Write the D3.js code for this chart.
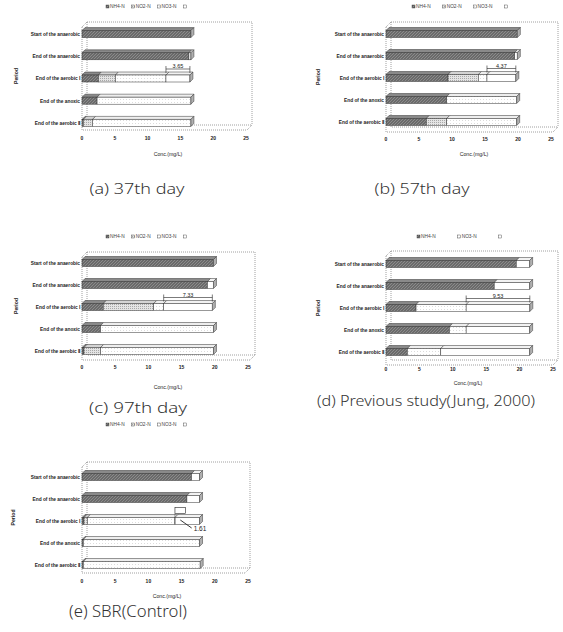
<!DOCTYPE html>
<html>
<head>
<meta charset="utf-8">
<script src="https://cdn.jsdelivr.net/npm/d3@7"></script>
<style>
  body { margin: 0; background: #fff; }
  svg { display: block; }
</style>
</head>
<body>
<div id="chart"></div>
<script>
// categories (y axis) and series
const categories = ["Start of the anaerobic", "End of the anaerobic", "End of the aerobic \u2160", "End of the anoxic", "End of the aerobic \u2161"];
const seriesNames = ["NH4-N", "NO2-N", "NO3-N", ""];
const tickValues = [0, 5, 10, 15, 20, 25];

// (a) 37th day
const nh4A = [16.6, 16.3, 2.5, 2.3, 0.2];
const no2A = [0, 0, 2.6, 0, 1.4];
const no3A = [0, 0, 7.7, 14.3, 15.0];
const etcA = [0, 0.3, 3.65, 0, 0];

// (b) 57th day
const nh4B = [19.9, 19.5, 9.4, 9.2, 6.1];
const no2B = [0, 0, 4.6, 0, 3.1];
const no3B = [0, 0, 1.3, 10.6, 10.6];
const etcB = [0, 0.4, 4.37, 0, 0];

// (c) 97th day
const nh4C = [19.8, 18.9, 3.2, 2.8, 0.3];
const no2C = [0, 0, 7.6, 0, 2.5];
const no3C = [0, 0, 1.5, 17.0, 17.0];
const etcC = [0, 0.9, 7.33, 0, 0];

// (d) previous study (Jung, 2000) - no NO2-N series
const nh4D = [19.5, 16.2, 4.5, 9.5, 3.2];
const no3D = [0, 0, 7.5, 2.5, 5.0];
const etcD = [2.0, 5.3, 9.53, 9.5, 13.3];

// (e) SBR (control)
const nh4E = [16.5, 15.8, 0.3, 0.2, 0.2];
const no2E = [0, 0, 0.5, 0, 0];
const no3E = [0, 0, 13.2, 17.5, 17.6];
const etcE = [1.2, 1.9, 3.7, 0, 0];

// annotated differences (row "End of the aerobic I")
const noteValues = [3.65, 4.37, 7.33, 9.53, 1.61];

const width = 563, height = 632;
const depth = 3;

const svg = d3.select('#chart').append('svg')
  .attr('width', width)
  .attr('height', height)
  .style('font-family', 'Liberation Sans, Arial, sans-serif');

// fill patterns
const defs = svg.append('defs');
const p0 = defs.append('pattern').attr('id', 'pNH4').attr('patternUnits', 'userSpaceOnUse')
  .attr('width', 3).attr('height', 3);
p0.append('rect').attr('width', 3).attr('height', 3).attr('fill', '#6a6a6a');
p0.append('path').attr('d', 'M0,3 L3,0').attr('stroke', '#999').attr('stroke-width', 0.7);
const p1 = defs.append('pattern').attr('id', 'pNO2').attr('patternUnits', 'userSpaceOnUse')
  .attr('width', 2).attr('height', 2);
p1.append('rect').attr('width', 2).attr('height', 2).attr('fill', '#e4e4e4');
p1.append('rect').attr('width', 1).attr('height', 1).attr('fill', '#a8a8a8');
const p2 = defs.append('pattern').attr('id', 'pNO3').attr('patternUnits', 'userSpaceOnUse')
  .attr('width', 3).attr('height', 3);
p2.append('rect').attr('width', 3).attr('height', 3).attr('fill', '#fff');
p2.append('rect').attr('width', 1).attr('height', 1).attr('fill', '#dcdcdc');

const fills = ['url(#pNH4)', 'url(#pNO2)', 'url(#pNO3)', '#fff'];
const topFills = ['#8a8a8a', '#d4d4d4', '#eeeeee', '#f2f2f2'];

const panels = [
  { caption: '(a) 37th day', data: [nh4A, no2A, no3A, etcA], kinds: [0, 1, 2, 3], note: noteValues[0],
    frame: [82, 252, 22, 130], xr: [82, 246], rows: [23, 134], tickY: 140, titleY: 156, titleX: 168,
    legendX: 106, legendY: 8, legendGap: 7, captionX: 137, captionY: 194, captionW: 95, captionSize: 15, periodX: 18 },
  { caption: '(b) 57th day', data: [nh4B, no2B, no3B, etcB], kinds: [0, 1, 2, 3], note: noteValues[1],
    frame: [386, 558, 22, 132], xr: [386, 551], rows: [23, 133], tickY: 141, titleY: 156, titleX: 474,
    legendX: 412, legendY: 8, legendGap: 12, captionX: 422, captionY: 194, captionW: 95, captionSize: 15, periodX: 320 },
  { caption: '(c) 97th day', data: [nh4C, no2C, no3C, etcC], kinds: [0, 1, 2, 3], note: noteValues[2],
    frame: [82, 255, 252, 360], xr: [82, 248], rows: [252, 362], tickY: 369, titleY: 389, titleX: 168,
    legendX: 106, legendY: 238, legendGap: 7, captionX: 138, captionY: 413, captionW: 98, captionSize: 15, periodX: 18 },
  { caption: '(d) Previous study(Jung, 2000)', data: [nh4D, no3D, etcD], kinds: [0, 2, 3], note: noteValues[3],
    frame: [386, 558, 251, 365], xr: [386, 553], rows: [253, 363], tickY: 371, titleY: 385, titleX: 468,
    legendX: 417, legendY: 238, legendGap: 22, captionX: 426, captionY: 406, captionW: 218, captionSize: 15, periodX: 320 },
  { caption: '(e) SBR(Control)', data: [nh4E, no2E, no3E, etcE], kinds: [0, 1, 2, 3], note: noteValues[4],
    frame: [82, 250, 462, 573], xr: [82, 248], rows: [466, 576], tickY: 583, titleY: 598, titleX: 167,
    legendX: 106, legendY: 426, legendGap: 7, captionX: 128, captionY: 617, captionW: 118, captionSize: 17, periodX: 15, callout: true }
];

panels.forEach(drawPanel);

function drawPanel(p) {
  const g = svg.append('g');
  const [fl, fr, ft, fb] = p.frame;
  const x = d3.scaleLinear().domain([0, 25]).range(p.xr);
  const y = d3.scalePoint().domain(categories).range(p.rows).padding(0.5);
  const bh = 7;

  // 3D walls (dotted)
  const wall = 'stroke:#888;stroke-width:0.8;stroke-dasharray:1,1;fill:none';
  g.append('path').attr('style', wall)
    .attr('d', `M${fl + depth + 2},${ft} H${fr} V${fb - depth - 2} M${fl},${ft + depth + 2} L${fl + depth + 2},${ft} ` +
      `M${fl},${ft + depth + 2} V${fb} H${fr - depth - 2} L${fr},${fb - depth - 2} ` +
      `M${fl + depth + 2},${ft} V${fb - depth - 2} H${fr}`);

  // stacked bars
  const rows = categories.map((c, i) => {
    const r = { cat: c };
    p.data.forEach((s, k) => { r['s' + k] = s[i]; });
    return r;
  });
  const stack = d3.stack().keys(p.data.map((s, k) => 's' + k))(rows);

  stack.forEach((layer, k) => {
    const kind = p.kinds[k];
    layer.forEach(d => {
      if (d[1] - d[0] <= 0) return;
      const x0 = x(d[0]), x1 = x(d[1]);
      const yt = y(d.data.cat) - bh / 2;
      g.append('path')
        .attr('d', `M${x0},${yt} L${x0 + depth},${yt - depth} L${x1 + depth},${yt - depth} L${x1},${yt} Z`)
        .attr('fill', topFills[kind]).attr('stroke', '#333').attr('stroke-width', 0.5);
      g.append('rect')
        .attr('x', x0).attr('y', yt).attr('width', x1 - x0).attr('height', bh)
        .attr('fill', fills[kind]).attr('stroke', '#333').attr('stroke-width', 0.5);
    });
  });
  // end caps
  const last = stack[stack.length - 1];
  last.forEach(d => {
    const xe = x(d[1]);
    const yt = y(d.data.cat) - bh / 2;
    g.append('path')
      .attr('d', `M${xe},${yt} L${xe + depth},${yt - depth} L${xe + depth},${yt + bh - depth} L${xe},${yt + bh} Z`)
      .attr('fill', '#b0b0b0').attr('stroke', '#333').attr('stroke-width', 0.5);
  });

  // category labels
  g.selectAll('.cat').data(categories).enter().append('text')
    .attr('x', fl - 2).attr('y', d => y(d) + 1.8)
    .attr('text-anchor', 'end').attr('font-size', 4.8).attr('fill', '#222')
    .attr('font-weight', 'bold')
    .text(d => d);

  // x axis ticks
  g.selectAll('.tick').data(tickValues).enter().append('text')
    .attr('x', d => x(d)).attr('y', p.tickY)
    .attr('text-anchor', 'middle').attr('font-size', 5).attr('fill', '#222').attr('font-weight', 'bold')
    .text(d => d);

  g.append('text').attr('x', p.titleX).attr('y', p.titleY)
    .attr('text-anchor', 'middle').attr('font-size', 5.2).attr('fill', '#222')
    .text('Conc.(mg/L)');

  g.append('text')
    .attr('transform', `translate(${p.periodX},${(ft + fb) / 2}) rotate(-90)`)
    .attr('text-anchor', 'middle').attr('font-size', 5.2).attr('fill', '#222').attr('font-weight', 'bold')
    .text('Period');

  // legend
  let lx = p.legendX;
  p.kinds.forEach(kind => {
    g.append('rect').attr('x', lx).attr('y', p.legendY - 3).attr('width', 3).attr('height', 3)
      .attr('fill', fills[kind]).attr('stroke', '#333').attr('stroke-width', 0.4);
    const t = g.append('text').attr('x', lx + 4).attr('y', p.legendY)
      .attr('font-size', 4.8).attr('fill', '#444').text(seriesNames[kind]);
    lx += 4 + t.node().getComputedTextLength() + p.legendGap;
  });

  // annotation on "End of the aerobic I"
  const ri = 2;
  const cat = categories[ri];
  const ytop = y(cat) - bh / 2 - depth;
  if (!p.callout) {
    const total = d3.sum(p.data, s => s[ri]);
    const xa = x(total - p.note), xb = x(total);
    const ly = ytop - 3;
    g.append('path').attr('fill', 'none').attr('stroke', '#222').attr('stroke-width', 0.6)
      .attr('d', `M${xa},${ly - 3} V${ytop + 1} M${xb},${ly - 3} V${ytop + 1} M${xa},${ly} H${xb}`);
    g.append('text').attr('x', (xa + xb) / 2).attr('y', ly - 1)
      .attr('text-anchor', 'middle').attr('font-size', 5.5).attr('fill', '#222')
      .text(p.note.toFixed(2));
  } else {
    const start = nh4E[ri] + no2E[ri] + no3E[ri];
    const xa = x(start), xb = x(start + p.note);
    g.append('rect').attr('x', xa).attr('y', ytop - 7).attr('width', xb - xa).attr('height', 6)
      .attr('fill', '#fff').attr('stroke', '#222').attr('stroke-width', 0.6);
    g.append('line').attr('x1', xa).attr('x2', xa).attr('y1', ytop - 1).attr('y2', y(cat) + bh / 2)
      .attr('stroke', '#555').attr('stroke-width', 0.6);
    g.append('line').attr('x1', (xa + xb) / 2).attr('y1', y(cat) - 1).attr('x2', xb + 6).attr('y2', y(cat) + 7)
      .attr('stroke', '#222').attr('stroke-width', 0.9);
    g.append('text').attr('x', xb + 8).attr('y', y(cat) + 10)
      .attr('font-size', 6.5).attr('fill', '#222').text(p.note.toFixed(2));
  }

  // caption
  svg.append('text').attr('x', p.captionX).attr('y', p.captionY)
    .attr('text-anchor', 'middle').attr('font-size', p.captionSize).attr('fill', '#333')
    .attr('font-family', 'Noto Sans, sans-serif').attr('font-weight', 300)
    .attr('textLength', p.captionW).attr('lengthAdjust', 'spacingAndGlyphs')
    .text(p.caption);
}
</script>
</body>
</html>
